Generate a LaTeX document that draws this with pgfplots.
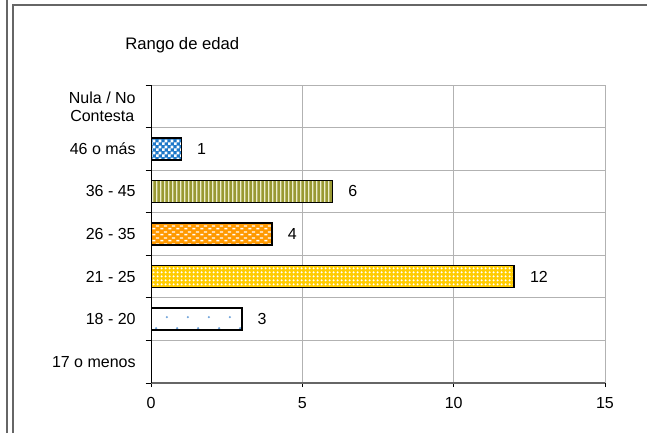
\documentclass[border=0pt]{standalone}
\usepackage{pgfplots}
\pgfplotsset{compat=1.18}
\usepackage{fontspec}
\setmainfont{Liberation Sans}
\usetikzlibrary{patterns}
\definecolor{cblue}{HTML}{1E78C8}
\definecolor{colive}{HTML}{999933}
\definecolor{colivel}{HTML}{EEEECC}
\definecolor{corange}{HTML}{FF9900}
\definecolor{cyellow}{HTML}{FFCC00}
\definecolor{cdot}{HTML}{6A9FD8}
\pgfdeclarepatternformonly{mycheck}{\pgfpointorigin}{\pgfqpoint{4.5pt}{4.5pt}}{\pgfqpoint{4.5pt}{4.5pt}}{%
 \pgfpathrectangle{\pgfpointorigin}{\pgfqpoint{2.25pt}{2.25pt}}%
 \pgfpathrectangle{\pgfqpoint{2.25pt}{2.25pt}}{\pgfqpoint{2.25pt}{2.25pt}}%
 \pgfusepath{fill}}
\pgfdeclarepatternformonly{myvstripes}{\pgfpointorigin}{\pgfqpoint{3pt}{1pt}}{\pgfqpoint{3pt}{1pt}}{%
 \pgfpathrectangle{\pgfpointorigin}{\pgfqpoint{1.3pt}{1pt}}%
 \pgfusepath{fill}}
\pgfdeclarepatternformonly{mydashes}{\pgfpointorigin}{\pgfqpoint{6pt}{4.5pt}}{\pgfqpoint{6pt}{4.5pt}}{%
 \pgfpathrectangle{\pgfqpoint{0.3pt}{0.5pt}}{\pgfqpoint{2.6pt}{1.2pt}}%
 \pgfpathrectangle{\pgfqpoint{3.3pt}{2.75pt}}{\pgfqpoint{2.6pt}{1.2pt}}%
 \pgfusepath{fill}}
\pgfdeclarepatternformonly{mydiamonds}{\pgfpointorigin}{\pgfqpoint{3pt}{3pt}}{\pgfqpoint{3pt}{3pt}}{%
 \pgfpathmoveto{\pgfqpoint{1.5pt}{0.5pt}}%
 \pgfpathlineto{\pgfqpoint{2.5pt}{1.5pt}}%
 \pgfpathlineto{\pgfqpoint{1.5pt}{2.5pt}}%
 \pgfpathlineto{\pgfqpoint{0.5pt}{1.5pt}}%
 \pgfpathclose
 \pgfusepath{fill}}
\pgfdeclarepatternformonly{mydots}{\pgfpointorigin}{\pgfqpoint{16pt}{16.5pt}}{\pgfqpoint{16pt}{16.5pt}}{%
 \pgfpathcircle{\pgfqpoint{13.8pt}{5.25pt}}{0.9pt}%
 \pgfpathcircle{\pgfqpoint{5.5pt}{13.6pt}}{0.9pt}%
 \pgfusepath{fill}}
\begin{document}
\begin{tikzpicture}[x=0.75pt,y=0.75pt]
\useasboundingbox (0,0) rectangle (647,433);
\draw[gray!80!black, line width=0.9pt] (7,0) -- (7,433);
\draw[gray!80!black, line width=0.9pt] (13,0) -- (13,428) -- (647,428);
\node[anchor=west, font=\fontsize{12.5}{14}\selectfont, inner sep=0pt] at (125,388) {Rango de edad};
\begin{axis}[
 xbar, bar shift=0pt, bar width=16.5pt,
 scale only axis, width=340.5pt, height=223.5pt,
 at={(113.25pt,37.5pt)}, anchor=south west,
 xmin=0, xmax=15, ymin=-0.5, ymax=6.5,
 xtick={0,5,10,15},
 ytick={0,1,2,3,4,5,6},
 yticklabels={17 o menos,18 - 20,21 - 25,26 - 35,36 - 45,46 o más,{Nula / No\\Contesta}},
 minor ytick={-0.5,0.5,1.5,2.5,3.5,4.5,5.5,6.5},
 major y tick style={draw=none},
 minor y tick style={black, line width=0.75pt},
 minor tick length=4pt,
 major tick length=3pt,
 tick align=outside,
 x tick style={black, line width=0.6pt},
 xmajorgrids=true, yminorgrids=true,
 grid style={black!30, line width=0.75pt},
 minor grid style={black!30, line width=0.75pt},
 axis x line*=bottom, axis y line*=left,
 x axis line style={black!60, line width=1.5pt, -},
 y axis line style={black, line width=0.75pt, -},
 /pgf/number format/assume math mode=true,
 tick label style={font=\fontsize{12}{13.5}\selectfont},
 yticklabel style={align=center, xshift=-5pt},
 xticklabel style={yshift=-4pt},
 nodes near coords, point meta=explicit symbolic,
 every node near coord/.append style={font=\fontsize{12}{13}\selectfont, anchor=west, xshift=8pt, yshift=0pt, black},
]
\addplot[draw=black, line width=1.1pt, fill=white, postaction={pattern=mydots, pattern color=cdot}] coordinates {(3,1) [3]};
\addplot[draw=black, line width=1.1pt, fill=cyellow, postaction={pattern=mydiamonds, pattern color=white}] coordinates {(12,2) [12]};
\addplot[draw=black, line width=1.1pt, fill=corange, postaction={pattern=mydashes, pattern color=white}] coordinates {(4,3) [4]};
\addplot[draw=black, line width=1.1pt, fill=colive, postaction={pattern=myvstripes, pattern color=colivel}] coordinates {(6,4) [6]};
\addplot[draw=black, line width=1.1pt, fill=cblue, postaction={pattern=mycheck, pattern color=white}] coordinates {(1,5) [1]};
\end{axis}
\end{tikzpicture}
\end{document}
